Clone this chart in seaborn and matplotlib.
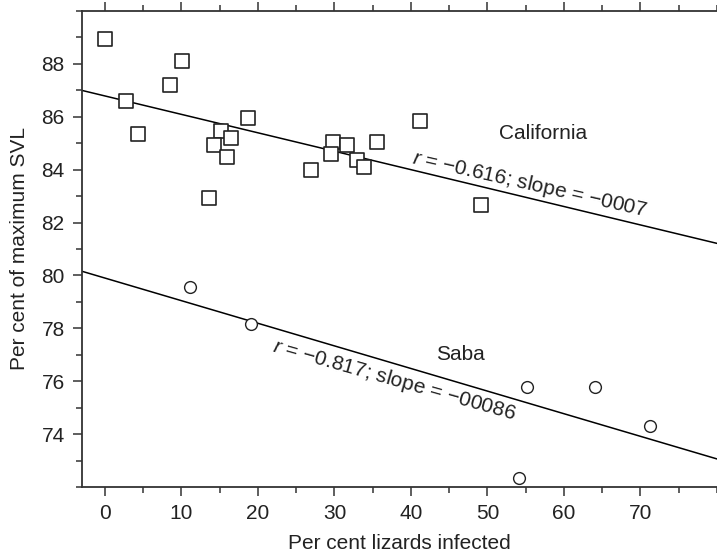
import matplotlib
matplotlib.use("Agg")
import matplotlib.pyplot as plt
from matplotlib.ticker import MultipleLocator
import numpy as np
import pandas as pd
import seaborn as sns

# California: per cent infected vs per cent of maximum SVL
cal_infected = [0.0, 10.1, 8.5, 2.7, 4.3, 18.7, 15.2, 16.5, 14.3, 16.0,
                13.6, 26.9, 29.8, 29.6, 31.6, 35.6, 32.9, 33.8, 41.2, 49.2]
cal_svl = [88.93, 88.10, 87.20, 86.60, 85.33, 85.97, 85.46, 85.20, 84.94, 84.49,
           82.94, 83.97, 85.06, 84.60, 84.94, 85.06, 84.35, 84.10, 85.83, 82.68]

# Saba
saba_infected = [11.1, 19.1, 55.2, 64.1, 71.2, 54.1]
saba_svl = [79.57, 78.15, 75.77, 75.77, 74.30, 72.35]

cal_label = "California"
saba_label = "Saba"
cal_stats = "= \u22120.616; slope = \u22120007"
saba_stats = "= \u22120.817; slope = \u221200086"

x_ticks = [0, 10, 20, 30, 40, 50, 60, 70]
y_ticks = [74, 76, 78, 80, 82, 84, 86, 88]

cal = pd.DataFrame({"infected": cal_infected, "svl": cal_svl})
saba = pd.DataFrame({"infected": saba_infected, "svl": saba_svl})

sns.set_theme(style="ticks")
plt.rcParams["font.family"] = ["Liberation Sans", "DejaVu Sans"]
plt.rcParams["mathtext.fontset"] = "custom"
plt.rcParams["mathtext.it"] = "Liberation Sans:italic"
plt.rcParams["mathtext.rm"] = "Liberation Sans"

fig = plt.figure(figsize=(7.17, 5.57), dpi=100)
ax = fig.add_axes([82 / 717, 1 - 487 / 557, 1 - 82 / 717, (487 - 11) / 557])
ax.set_xlim(-3, 80)
ax.set_ylim(72, 90)

# least-squares lines spanning the full x range
line_kw = dict(color="black", lw=1.1)
sns.regplot(data=cal, x="infected", y="svl", ax=ax, scatter=False, ci=None,
            truncate=False, line_kws=line_kw)
sns.regplot(data=saba, x="infected", y="svl", ax=ax, scatter=False, ci=None,
            truncate=False, line_kws=line_kw)

sns.scatterplot(data=cal, x="infected", y="svl", ax=ax, marker="s", s=95,
                facecolor="white", edgecolor="#222222", linewidth=1.2, zorder=3)
sns.scatterplot(data=saba, x="infected", y="svl", ax=ax, marker="o", s=72,
                facecolor="white", edgecolor="#222222", linewidth=1.0, zorder=3)

ax.set_xlim(-3, 80)
ax.set_ylim(72, 90)

txt_color = "#222222"
ax.text(57.2, 85.37, cal_label, ha="center", va="center", fontsize=15, color=txt_color)
ax.text(46.5, 77.02, saba_label, ha="center", va="center", fontsize=15, color=txt_color)
ax.text(55.5, 83.45, r"$\it{r}$ " + cal_stats, ha="center", va="center",
        rotation=-12.8, rotation_mode="anchor", fontsize=15, color=txt_color)
ax.text(37.8, 76.04, r"$\it{r}$ " + saba_stats, ha="center", va="center",
        rotation=-15.8, rotation_mode="anchor", fontsize=15, color=txt_color)

ax.set_xticks(x_ticks)
ax.set_yticks(y_ticks)
ax.xaxis.set_minor_locator(MultipleLocator(5))
ax.yaxis.set_minor_locator(MultipleLocator(1))
ax.tick_params(axis="both", which="major", direction="out", length=6.5, width=1.1,
               labelsize=15, colors="#333333", labelcolor=txt_color, pad=6)
ax.tick_params(axis="both", which="minor", direction="out", length=4, width=1.1,
               colors="#333333")
ax.tick_params(axis="x", which="both", top=True, labeltop=False)

for side in ["left", "bottom", "top"]:
    ax.spines[side].set_color("#333333")
    ax.spines[side].set_linewidth(1.3)
ax.spines["right"].set_visible(False)

ax.set_xlabel("Per cent lizards infected", fontsize=15, color=txt_color, labelpad=8)
ax.set_ylabel("Per cent of maximum SVL", fontsize=15, color=txt_color, labelpad=9)

fig.savefig("out.png", dpi=100)
